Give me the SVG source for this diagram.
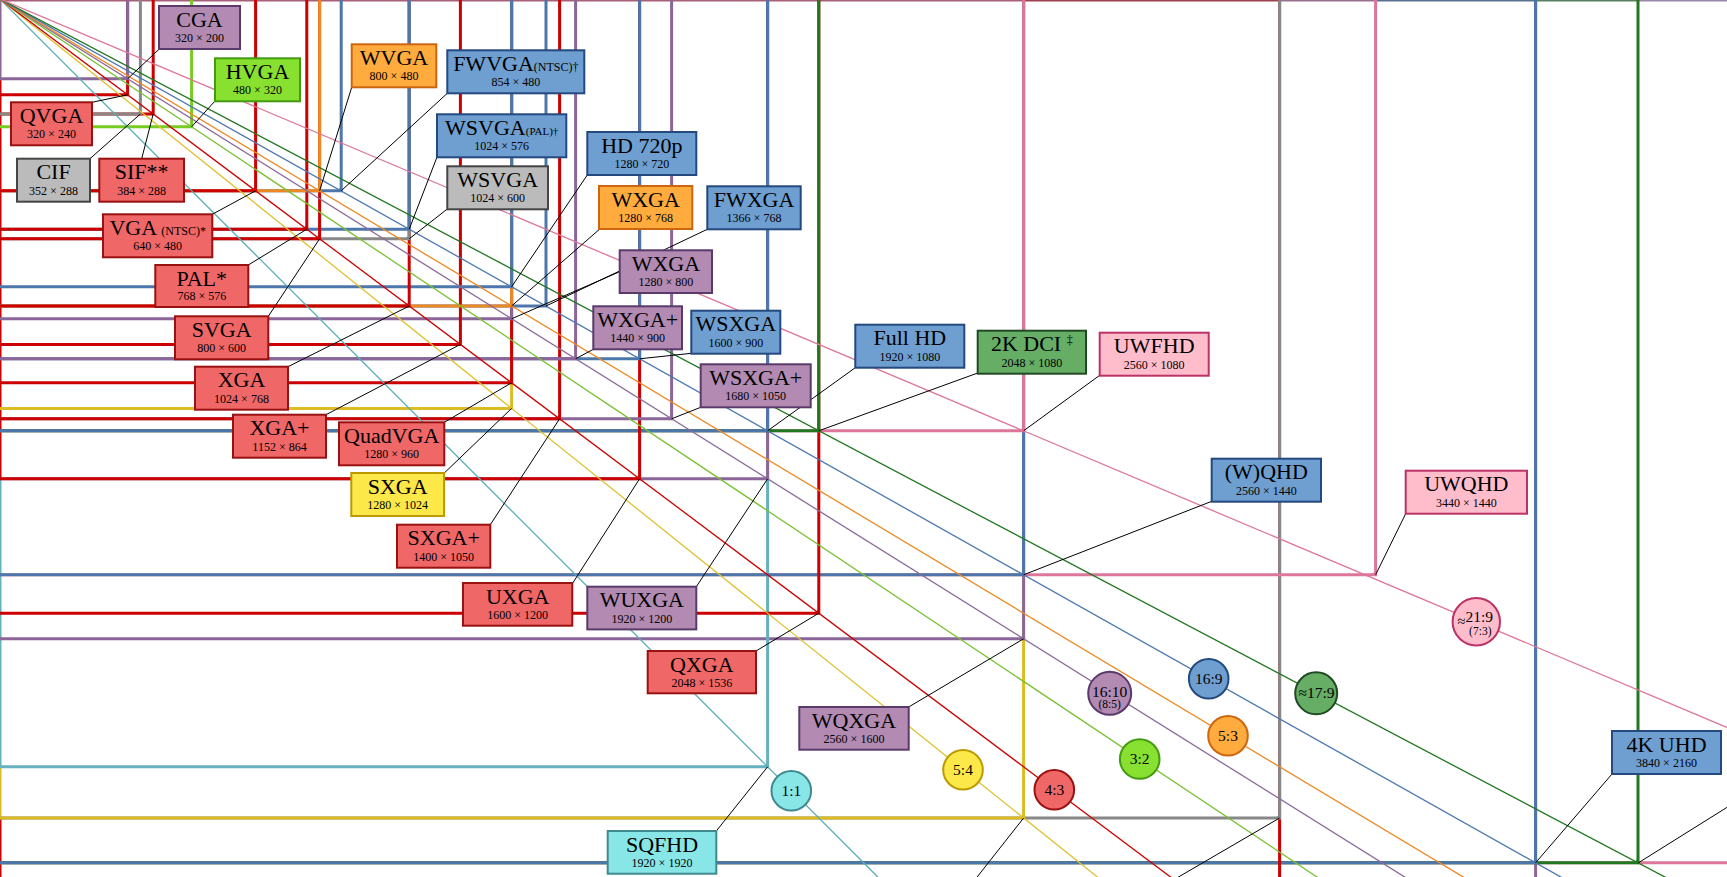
<svg xmlns="http://www.w3.org/2000/svg" width="1727" height="877" viewBox="0 0 1727 877">
<style>
.L{fill:none;stroke-width:7.5;stroke-linejoin:miter}
.cR{stroke:#cc0000;marker-mid:url(#mR)}
.cP{stroke:#8a6699;marker-mid:url(#mP)}
.cB{stroke:#4d77aa;marker-mid:url(#mB)}
.cO{stroke:#ee8822;marker-mid:url(#mO)}
.cG{stroke:#77cc22;marker-mid:url(#mG)}
.cK{stroke:#888888;marker-mid:url(#mK)}
.cY{stroke:#ddbb22;marker-mid:url(#mY)}
.cD{stroke:#227722;marker-mid:url(#mD)}
.cN{stroke:#dd7799;marker-mid:url(#mN)}
.cC{stroke:#66b0bf;marker-mid:url(#mC)}
.dg{fill:none;stroke-width:3.25}
.ld{stroke:#000;stroke-width:1;fill:none}
.ed{stroke-width:3;fill:none}
rect{stroke-width:2}
.bR{fill:#f06767;stroke:#991111}
.bP{fill:#b28ab2;stroke:#5a3a6a}
.bB{fill:#6f9fd0;stroke:#23497f}
.bO{fill:#ffab3e;stroke:#cc6611}
.bG{fill:#88e030;stroke:#449a11}
.bY{fill:#fde84a;stroke:#bb9a00}
.bK{fill:#bbbbbb;stroke:#454545}
.bD{fill:#66ad66;stroke:#224a22}
.bN{fill:#ffbdcc;stroke:#bb3366}
.bC{fill:#88e6e6;stroke:#3f8a8f}
circle{stroke-width:2}
text{font-family:"Liberation Serif","Times New Roman",serif;text-anchor:middle;fill:#000}
.t{font-size:22px}
.s{font-size:12px}
.q{font-size:15.5px}
.sm{font-size:11.5px}
</style>
<defs>
<marker id="mR" markerUnits="userSpaceOnUse" orient="0" overflow="visible" markerWidth="1" markerHeight="1"><path d="M-17,0H0V-17A17,17 0 0 1 -17,0Z" fill="#cc0000"/></marker>
<marker id="mP" markerUnits="userSpaceOnUse" orient="0" overflow="visible" markerWidth="1" markerHeight="1"><path d="M-17,0H0V-17A17,17 0 0 1 -17,0Z" fill="#8a6699"/></marker>
<marker id="mB" markerUnits="userSpaceOnUse" orient="0" overflow="visible" markerWidth="1" markerHeight="1"><path d="M-17,0H0V-17A17,17 0 0 1 -17,0Z" fill="#4d77aa"/></marker>
<marker id="mO" markerUnits="userSpaceOnUse" orient="0" overflow="visible" markerWidth="1" markerHeight="1"><path d="M-17,0H0V-17A17,17 0 0 1 -17,0Z" fill="#ee8822"/></marker>
<marker id="mG" markerUnits="userSpaceOnUse" orient="0" overflow="visible" markerWidth="1" markerHeight="1"><path d="M-17,0H0V-17A17,17 0 0 1 -17,0Z" fill="#77cc22"/></marker>
<marker id="mK" markerUnits="userSpaceOnUse" orient="0" overflow="visible" markerWidth="1" markerHeight="1"><path d="M-17,0H0V-17A17,17 0 0 1 -17,0Z" fill="#888888"/></marker>
<marker id="mY" markerUnits="userSpaceOnUse" orient="0" overflow="visible" markerWidth="1" markerHeight="1"><path d="M-17,0H0V-17A17,17 0 0 1 -17,0Z" fill="#ddbb22"/></marker>
<marker id="mD" markerUnits="userSpaceOnUse" orient="0" overflow="visible" markerWidth="1" markerHeight="1"><path d="M-17,0H0V-17A17,17 0 0 1 -17,0Z" fill="#227722"/></marker>
<marker id="mN" markerUnits="userSpaceOnUse" orient="0" overflow="visible" markerWidth="1" markerHeight="1"><path d="M-17,0H0V-17A17,17 0 0 1 -17,0Z" fill="#dd7799"/></marker>
<marker id="mC" markerUnits="userSpaceOnUse" orient="0" overflow="visible" markerWidth="1" markerHeight="1"><path d="M-17,0H0V-17A17,17 0 0 1 -17,0Z" fill="#66b0bf"/></marker>
</defs>
<rect x="0" y="0" width="1727" height="877" fill="#ffffff" stroke="none"/>
<g id="connectors">
<g id="edges">
<line class="ed" x1="0" y1="0" x2="0" y2="79" stroke="#8a6699"/>
<line class="ed" x1="0" y1="79" x2="0" y2="479" stroke="#cc0000"/>
<line class="ed" x1="0" y1="479" x2="0" y2="767" stroke="#66b0bf"/>
<line class="ed" x1="0" y1="767" x2="0" y2="818" stroke="#ddbb22"/>
<line class="ed" x1="0" y1="818" x2="0" y2="877" stroke="#cc0000"/>
<line class="ed" x1="0" y1="0" x2="1024" y2="0" stroke="#a8607a"/>
<line class="ed" x1="1024" y1="0" x2="1280" y2="0" stroke="#a04050"/>
<line class="ed" x1="1280" y1="0" x2="1376" y2="0" stroke="#9a7090"/>
<line class="ed" x1="1376" y1="0" x2="1536" y2="0" stroke="#5a7090"/>
<line class="ed" x1="1536" y1="0" x2="1638" y2="0" stroke="#5a8060"/>
<line class="ed" x1="1638" y1="0" x2="1727" y2="0" stroke="#9a88a8"/>
</g>
<g id="resolution-lines" transform="translate(-0.4,-1.2) scale(0.4)">
<path class="L cN" d="M0,2160H5120V0"/>
<path class="L cP" d="M0,2400H3840V0"/>
<path class="L cD" d="M0,2160H4096V0"/>
<path class="L cB" d="M0,2160H3840V0"/>
<path class="L cR" d="M0,2400H3200V0"/>
<path class="L cK" d="M0,2048H3200V0"/>
<path class="L cY" d="M0,2048H2560V0"/>
<path class="L cN" d="M0,1440H3440V0"/>
<path class="L cP" d="M0,1600H2560V0"/>
<path class="L cC" d="M0,1920H1920V0"/>
<path class="L cB" d="M0,1440H2560V0"/>
<path class="L cR" d="M0,1536H2048V0"/>
<path class="L cN" d="M0,1080H2560V0"/>
<path class="L cP" d="M0,1200H1920V0"/>
<path class="L cD" d="M0,1080H2048V0"/>
<path class="L cB" d="M0,1080H1920V0"/>
<path class="L cR" d="M0,1200H1600V0"/>
<path class="L cP" d="M0,1050H1680V0"/>
<path class="L cR" d="M0,1050H1400V0"/>
<path class="L cB" d="M0,900H1600V0"/>
<path class="L cY" d="M0,1024H1280V0"/>
<path class="L cP" d="M0,900H1440V0"/>
<path class="L cR" d="M0,960H1280V0"/>
<path class="L cB" d="M0,768H1366V0"/>
<path class="L cP" d="M0,800H1280V0"/>
<path class="L cR" d="M0,864H1152V0"/>
<path class="L cO" d="M0,768H1280V0"/>
<path class="L cB" d="M0,720H1280V0"/>
<path class="L cR" d="M0,768H1024V0"/>
<path class="L cK" d="M0,600H1024V0"/>
<path class="L cB" d="M0,576H1024V0"/>
<path class="L cR" d="M0,600H800V0"/>
<path class="L cR" d="M0,576H768V0"/>
<path class="L cB" d="M0,480H854V0"/>
<path class="L cO" d="M0,480H800V0"/>
<path class="L cR" d="M0,480H640V0"/>
<path class="L cG" d="M0,320H480V0"/>
<path class="L cR" d="M0,288H384V0"/>
<path class="L cK" d="M0,288H352V0"/>
<path class="L cR" d="M0,240H320V0"/>
<path class="L cP" d="M0,200H320V0"/>
</g>
<g id="diagonals" transform="translate(-0.4,-1.2) scale(0.4)">
<line class="dg" x1="0" y1="0" x2="5000" y2="5000" stroke="#5aacb8"/>
<line class="dg" x1="0" y1="0" x2="5000" y2="4000" stroke="#e0c030"/>
<line class="dg" x1="0" y1="0" x2="5000" y2="3750" stroke="#cc0000"/>
<line class="dg" x1="0" y1="0" x2="5000" y2="3333.3" stroke="#77c033"/>
<line class="dg" x1="0" y1="0" x2="5000" y2="3125" stroke="#8a6a9a"/>
<line class="dg" x1="0" y1="0" x2="5000" y2="3000" stroke="#ee8822"/>
<line class="dg" x1="0" y1="0" x2="5000" y2="2812.5" stroke="#4d77b0"/>
<line class="dg" x1="0" y1="0" x2="5000" y2="2636.7" stroke="#227722"/>
<line class="dg" x1="0" y1="0" x2="5000" y2="2109.4" stroke="#dd7799"/>
</g>
<g id="leaders">
<line class="ld" x1="159" y1="49.3" x2="127.6" y2="78.8"/>
<line class="ld" x1="92" y1="102.3" x2="127.6" y2="94.8"/>
<line class="ld" x1="90" y1="158.7" x2="140.4" y2="114"/>
<line class="ld" x1="141.7" y1="158.7" x2="153.2" y2="114"/>
<line class="ld" x1="215" y1="101" x2="191.6" y2="126.8"/>
<line class="ld" x1="212.3" y1="214.3" x2="255.6" y2="190.8"/>
<line class="ld" x1="351.7" y1="87.3" x2="319.6" y2="190.8"/>
<line class="ld" x1="447.3" y1="93.3" x2="341.2" y2="190.8"/>
<line class="ld" x1="248.3" y1="265" x2="306.8" y2="229.2"/>
<line class="ld" x1="437" y1="157" x2="409.2" y2="229.2"/>
<line class="ld" x1="268.3" y1="316.3" x2="319.6" y2="238.8"/>
<line class="ld" x1="447.3" y1="209" x2="409.2" y2="238.8"/>
<line class="ld" x1="587.3" y1="175" x2="511.6" y2="286.8"/>
<line class="ld" x1="288" y1="366.7" x2="409.2" y2="306"/>
<line class="ld" x1="599" y1="229.7" x2="511.6" y2="306"/>
<line class="ld" x1="707.3" y1="229.3" x2="546" y2="306"/>
<line class="ld" x1="619.7" y1="271.7" x2="511.6" y2="318.8"/>
<line class="ld" x1="326" y1="414.7" x2="460.4" y2="344.4"/>
<line class="ld" x1="593.3" y1="349.3" x2="575.6" y2="358.8"/>
<line class="ld" x1="691.3" y1="353.3" x2="639.6" y2="358.8"/>
<line class="ld" x1="444.3" y1="422.3" x2="511.6" y2="382.8"/>
<line class="ld" x1="444.3" y1="473" x2="511.6" y2="408.4"/>
<line class="ld" x1="490.3" y1="524.7" x2="559.6" y2="418.8"/>
<line class="ld" x1="700.7" y1="407.3" x2="671.6" y2="418.8"/>
<line class="ld" x1="855.3" y1="367.7" x2="767.6" y2="430.8"/>
<line class="ld" x1="977.7" y1="373" x2="818.8" y2="430.8"/>
<line class="ld" x1="1099.7" y1="375.3" x2="1023.6" y2="430.8"/>
<line class="ld" x1="572.3" y1="583.7" x2="639.6" y2="478.8"/>
<line class="ld" x1="696.3" y1="586.7" x2="767.6" y2="478.8"/>
<line class="ld" x1="1211.7" y1="501.3" x2="1023.6" y2="574.8"/>
<line class="ld" x1="1405.7" y1="513.7" x2="1375.6" y2="574.8"/>
<line class="ld" x1="756" y1="651" x2="818.8" y2="613.2"/>
<line class="ld" x1="908.7" y1="707" x2="1023.6" y2="638.8"/>
<line class="ld" x1="716.3" y1="831" x2="767.6" y2="766.8"/>
<line class="ld" x1="959" y1="900" x2="1023.6" y2="818"/>
<line class="ld" x1="1139" y1="900" x2="1279.6" y2="818"/>
<line class="ld" x1="1612" y1="774" x2="1535.6" y2="862.8"/>
<line class="ld" x1="1760" y1="786.7" x2="1638.4" y2="862.8"/>
</g>
</g>
<g id="cga"><rect class="bP" x="159" y="6" width="81" height="43"/><text class="t" x="199.5" y="26.7">CGA</text><text class="s" x="199.5" y="41.8">320 × 200</text></g>
<g id="hvga"><rect class="bG" x="215" y="58.3" width="85" height="43"/><text class="t" x="257.5" y="79">HVGA</text><text class="s" x="257.5" y="94.1">480 × 320</text></g>
<g id="wvga"><rect class="bO" x="351.7" y="44.3" width="84.6" height="43"/><text class="t" x="394" y="65">WVGA</text><text class="s" x="394" y="80.1">800 × 480</text></g>
<g id="qvga"><rect class="bR" x="11" y="102.3" width="81" height="43"/><text class="t" x="51.5" y="123">QVGA</text><text class="s" x="51.5" y="138.1">320 × 240</text></g>
<g id="cif"><rect class="bK" x="17" y="158.7" width="73" height="43"/><text class="t" x="53.5" y="179.4">CIF</text><text class="s" x="53.5" y="194.5">352 × 288</text></g>
<g id="sif"><rect class="bR" x="99.3" y="158.7" width="84.7" height="43"/><text class="t" x="141.7" y="179.4">SIF**</text><text class="s" x="141.7" y="194.5">384 × 288</text></g>
<g id="vga"><rect class="bR" x="103" y="214.3" width="109.3" height="43"/><text class="t" x="157.7" y="235">VGA <tspan font-size="12">(NTSC)*</tspan></text><text class="s" x="157.7" y="250.1">640 × 480</text></g>
<g id="pal"><rect class="bR" x="155.3" y="265" width="93" height="42"/><text class="t" x="201.8" y="285.5">PAL*</text><text class="s" x="201.8" y="300.3">768 × 576</text></g>
<g id="fwvga"><rect class="bB" x="447.3" y="50.3" width="137" height="43"/><text class="t" x="515.8" y="71">FWVGA<tspan font-size="12">(NTSC)†</tspan></text><text class="s" x="515.8" y="86.1">854 × 480</text></g>
<g id="wsvga-pal"><rect class="bB" x="437" y="114.3" width="129.3" height="43"/><text class="t" x="501.7" y="135">WSVGA<tspan font-size="11">(PAL)†</tspan></text><text class="s" x="501.7" y="150.1">1024 × 576</text></g>
<g id="wsvga"><rect class="bK" x="447.3" y="166.3" width="100.7" height="43"/><text class="t" x="497.7" y="187">WSVGA</text><text class="s" x="497.7" y="202.1">1024 × 600</text></g>
<g id="hd720"><rect class="bB" x="587.3" y="132" width="109" height="43"/><text class="t" x="641.8" y="152.7">HD 720p</text><text class="s" x="641.8" y="167.8">1280 × 720</text></g>
<g id="wxga-768"><rect class="bO" x="599" y="186" width="93.3" height="43"/><text class="t" x="645.7" y="206.7">WXGA</text><text class="s" x="645.7" y="221.8">1280 × 768</text></g>
<g id="fwxga"><rect class="bB" x="707.3" y="186.3" width="93.4" height="43"/><text class="t" x="754" y="207">FWXGA</text><text class="s" x="754" y="222.1">1366 × 768</text></g>
<g id="wxga-800"><rect class="bP" x="619.7" y="250.3" width="92.3" height="42.7"/><text class="t" x="665.9" y="271">WXGA</text><text class="s" x="665.9" y="286.1">1280 × 800</text></g>
<g id="svga"><rect class="bR" x="175" y="316.3" width="93.3" height="43"/><text class="t" x="221.7" y="337">SVGA</text><text class="s" x="221.7" y="352.1">800 × 600</text></g>
<g id="xga"><rect class="bR" x="195" y="366.7" width="93" height="43"/><text class="t" x="241.5" y="387.4">XGA</text><text class="s" x="241.5" y="402.5">1024 × 768</text></g>
<g id="xga-plus"><rect class="bR" x="233" y="414.7" width="93" height="43"/><text class="t" x="279.5" y="435.4">XGA+</text><text class="s" x="279.5" y="450.5">1152 × 864</text></g>
<g id="quadvga"><rect class="bR" x="339" y="422.3" width="105.3" height="43"/><text class="t" x="391.7" y="443">QuadVGA</text><text class="s" x="391.7" y="458.1">1280 × 960</text></g>
<g id="sxga"><rect class="bY" x="351.3" y="473" width="92.8" height="43"/><text class="t" x="397.7" y="493.7">SXGA</text><text class="s" x="397.7" y="508.8">1280 × 1024</text></g>
<g id="sxga-plus"><rect class="bR" x="397" y="524.7" width="93.3" height="43"/><text class="t" x="443.7" y="545.4">SXGA+</text><text class="s" x="443.7" y="560.5">1400 × 1050</text></g>
<g id="wxga-plus"><rect class="bP" x="593.3" y="306.3" width="88.7" height="43"/><text class="t" x="637.7" y="327">WXGA+</text><text class="s" x="637.7" y="342.1">1440 × 900</text></g>
<g id="wsxga"><rect class="bB" x="691.3" y="310.7" width="89" height="43"/><text class="t" x="735.8" y="331.4">WSXGA</text><text class="s" x="735.8" y="346.5">1600 × 900</text></g>
<g id="wsxga-plus"><rect class="bP" x="700.7" y="364.3" width="110" height="43"/><text class="t" x="755.7" y="385">WSXGA+</text><text class="s" x="755.7" y="400.1">1680 × 1050</text></g>
<g id="fullhd"><rect class="bB" x="855.3" y="324.7" width="109" height="43"/><text class="t" x="909.8" y="345.4">Full HD</text><text class="s" x="909.8" y="360.5">1920 × 1080</text></g>
<g id="dci2k"><rect class="bD" x="977.7" y="330.7" width="108.3" height="43"/><text class="t" x="1031.8" y="351.4">2K DCI <tspan font-size="12" dy="-7">‡</tspan></text><text class="s" x="1031.8" y="366.5">2048 × 1080</text></g>
<g id="uwfhd"><rect class="bN" x="1099.7" y="332.7" width="109" height="43"/><text class="t" x="1154.2" y="353.4">UWFHD</text><text class="s" x="1154.2" y="368.5">2560 × 1080</text></g>
<g id="wqhd"><rect class="bB" x="1211.7" y="458.7" width="109.3" height="43"/><text class="t" x="1266.3" y="479.4">(W)QHD</text><text class="s" x="1266.3" y="494.5">2560 × 1440</text></g>
<g id="uwqhd"><rect class="bN" x="1405.7" y="470.7" width="121.3" height="43"/><text class="t" x="1466.3" y="491.4">UWQHD</text><text class="s" x="1466.3" y="506.5">3440 × 1440</text></g>
<g id="uxga"><rect class="bR" x="463" y="583" width="109.3" height="42.7"/><text class="t" x="517.7" y="603.5">UXGA</text><text class="s" x="517.7" y="618.6">1600 × 1200</text></g>
<g id="wuxga"><rect class="bP" x="587.3" y="586.7" width="109" height="42.7"/><text class="t" x="641.8" y="607.4">WUXGA</text><text class="s" x="641.8" y="622.5">1920 × 1200</text></g>
<g id="qxga"><rect class="bR" x="647.7" y="651" width="108.3" height="42.3"/><text class="t" x="701.8" y="671.7">QXGA</text><text class="s" x="701.8" y="686.8">2048 × 1536</text></g>
<g id="wqxga"><rect class="bP" x="799.3" y="707" width="109.4" height="42.7"/><text class="t" x="854" y="727.7">WQXGA</text><text class="s" x="854" y="742.8">2560 × 1600</text></g>
<g id="sqfhd"><rect class="bC" x="607.7" y="831" width="108.6" height="42.7"/><text class="t" x="662" y="851.7">SQFHD</text><text class="s" x="662" y="866.8">1920 × 1920</text></g>
<g id="uhd4k"><rect class="bB" x="1612" y="731" width="109" height="43"/><text class="t" x="1666.5" y="751.7">4K UHD</text><text class="s" x="1666.5" y="766.8">3840 × 2160</text></g>
<g id="r1x1"><circle cx="791.3" cy="790.7" r="19.8" fill="#88e6e6" stroke="#3f8a8f"/><text class="q" x="791.3" y="795.5">1:1</text></g>
<g id="r5x4"><circle cx="963" cy="769.7" r="19.8" fill="#fde84a" stroke="#bb9a00"/><text class="q" x="963" y="774.5">5:4</text></g>
<g id="r4x3"><circle cx="1054.3" cy="789.7" r="19.8" fill="#f06767" stroke="#991111"/><text class="q" x="1054.3" y="794.5">4:3</text></g>
<g id="r3x2"><circle cx="1139.7" cy="759" r="19.8" fill="#88e030" stroke="#449a11"/><text class="q" x="1139.7" y="763.8">3:2</text></g>
<g id="r16x10"><circle cx="1109.7" cy="693.3" r="21.5" fill="#b28ab2" stroke="#5a3a6a"/><text class="q" x="1109.7" y="696.5">16:10</text><text class="sm" x="1109.7" y="707.8">(8:5)</text></g>
<g id="r5x3"><circle cx="1228" cy="735.7" r="19.8" fill="#ffab3e" stroke="#cc6611"/><text class="q" x="1228" y="740.5">5:3</text></g>
<g id="r16x9"><circle cx="1208.7" cy="678.7" r="19.8" fill="#6f9fd0" stroke="#23497f"/><text class="q" x="1208.7" y="683.5">16:9</text></g>
<g id="r17x9"><circle cx="1316.2" cy="693.3" r="21" fill="#66ad66" stroke="#224a22"/><text class="q" x="1316.5" y="697.5">≈17:9</text></g>
<g id="r21x9"><circle cx="1476.3" cy="621.7" r="23.7" fill="#ffbdcc" stroke="#bb3366"/><text class="q" x="1475.3" y="622.3"><tspan font-size="14.5" dy="3.5">≈</tspan><tspan dy="-3.5">21:9</tspan></text><text class="sm" x="1480.3" y="634.5">(7:3)</text></g>
</svg>
